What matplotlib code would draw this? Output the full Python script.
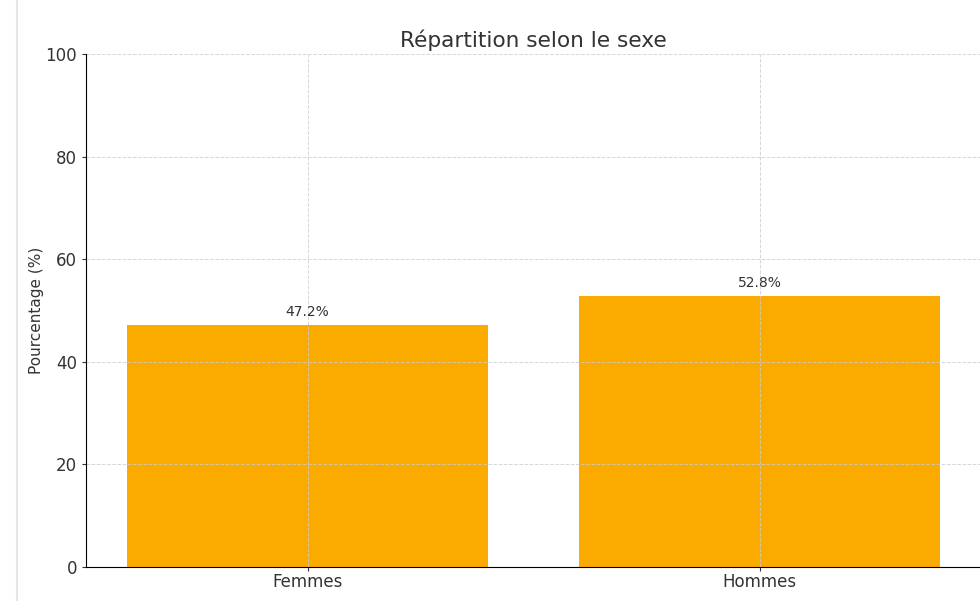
import matplotlib.pyplot as plt
from matplotlib.lines import Line2D

# Répartition par sexe (%)
categories = ['Femmes', 'Hommes']
percentages = [47.2, 52.8]

fig = plt.figure(figsize=(9.8, 6.01), dpi=100)
ax = fig.add_axes([0.0880, 0.0566, 0.913, 0.853])

bars = ax.bar(categories, percentages, color='#FBAA00', width=0.8)

# valeurs au-dessus des barres
for bar, val in zip(bars, percentages):
    ax.text(bar.get_x() + bar.get_width() / 2, val + 1.2, f'{val}%',
            ha='center', va='bottom', fontsize=10, color='#333333')

ax.set_ylim(0, 100)
ax.set_title('Répartition selon le sexe', fontsize=15.6, color='#333333', pad=5)
ax.set_ylabel('Pourcentage (%)', fontsize=11, color='#333333', labelpad=1)
ax.tick_params(axis='both', labelsize=12, colors='#333333', length=3)
ax.tick_params(axis='x', pad=1)
ax.grid(True, linestyle='--', linewidth=0.7, color='#cccccc', alpha=0.8)
for side in ['top', 'right']:
    ax.spines[side].set_visible(False)

# bordure gauche
fig.add_artist(Line2D([0.017, 0.017], [0, 1], color='#e6e6e6', linewidth=1.5,
                      transform=fig.transFigure))

fig.savefig('out.png', dpi=100)
